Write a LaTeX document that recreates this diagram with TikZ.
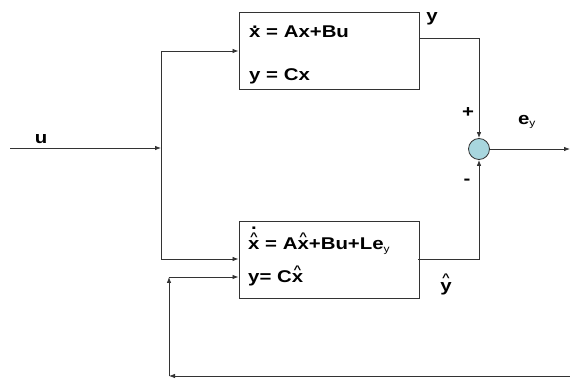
\documentclass[tikz,border=0pt]{standalone}
\usepackage{fontspec}
\setmainfont{Liberation Sans}[FakeStretch=1.2]
\usetikzlibrary{arrows.meta}
\newcommand\hatsym{\raisebox{0.58em}{\fontsize{11}{11}\selectfont\textasciicircum}}
\newcommand\dotsym{\raisebox{0.55em}{.}}
\newcommand\xhat{\ooalign{x\cr\hidewidth\hatsym\hidewidth\cr}}
\newcommand\yhat{\ooalign{y\cr\hidewidth\hatsym\hidewidth\cr}}
\newcommand\xdot{\ooalign{x\cr\hidewidth\dotsym\hidewidth\cr}}
\newcommand\xdothat{\ooalign{x\cr\hidewidth\hatsym\hidewidth\cr\hidewidth\raisebox{1.22em}{.}\hidewidth\cr}}
\definecolor{linec}{HTML}{333333}
\definecolor{sumfill}{HTML}{A8D6DE}
\tikzset{
  blk/.style={draw=linec, line width=0.9pt, minimum width=180pt, minimum height=77pt, inner sep=0pt},
  eqtxt/.style={anchor=base west, inner sep=0pt, font=\fontsize{17}{20}\selectfont\bfseries},
  lbl/.style={inner sep=0pt, font=\fontsize{17}{20}\selectfont\bfseries},
  conn/.style={draw=linec, line width=0.8pt},
  arr/.style={conn, -{Latex[length=6pt,width=4.5pt]}},
  sumnode/.style={circle, draw=linec, fill=sumfill, line width=0.8pt, minimum size=21pt, inner sep=0pt}
}
\begin{document}
\begin{tikzpicture}[x=1pt,y=-1pt]
\useasboundingbox (0,0) rectangle (570,379);
\node[blk] (top) at (329,50.5) {};
\node[blk] (bot) at (329,259.5) {};
\node[sumnode] (sum) at (479,149) {};
% box texts
\node[eqtxt] (t1) at (249,38) {\xdot{} = Ax+Bu};
\node[eqtxt] (t2) at (249,81) {y = Cx};
\node[eqtxt] (b1) at (248,250) {\xdothat{} = A\xhat+Bu+Le\textsubscript{\fontsize{10}{10}\selectfont\mdseries y}};
\node[eqtxt] (b2) at (248,283) {y= C\xhat};
% labels
\node[lbl] (ly) at (432,19) {y};
\node[lbl] (lu) at (41,139) {u};
\node[lbl] (lp) at (468,113) {+};
\node[lbl] (lm) at (467,182) {-};
\node[lbl] (le) at (527,122) {e\textsubscript{\fontsize{10}{10}\selectfont\mdseries y}};
\node[lbl] (lyh) at (446,287) {\yhat};
% coordinates
\coordinate (uin) at (10,148);
\coordinate (split) at (161,148);
\coordinate (ut) at (161,51);
\coordinate (ub) at (161,259);
\coordinate (tout) at (419,38);
\coordinate (bout) at (418,259);
\coordinate (eout) at (570,149);
\coordinate (fbr) at (570,376);
\coordinate (fbl) at (169,376);
\coordinate (fbc) at (169,277);
% connectors
\draw[arr] (uin) -- (split);
\draw[conn] (ut) -- (ub);
\draw[arr] (ut) -- (top.west |- ut);
\draw[arr] (ub) -- (bot.west |- ub);
\draw[arr] (tout) -| (sum.north);
\draw[arr] (bout) -| (sum.south);
\draw[arr] (sum.east) -- (eout);
\draw[arr] (fbr) -- (fbl);
\draw[arr] (fbl) -- (fbc);
\draw[arr] (fbc) -- (bot.west |- fbc);
\end{tikzpicture}
\end{document}
